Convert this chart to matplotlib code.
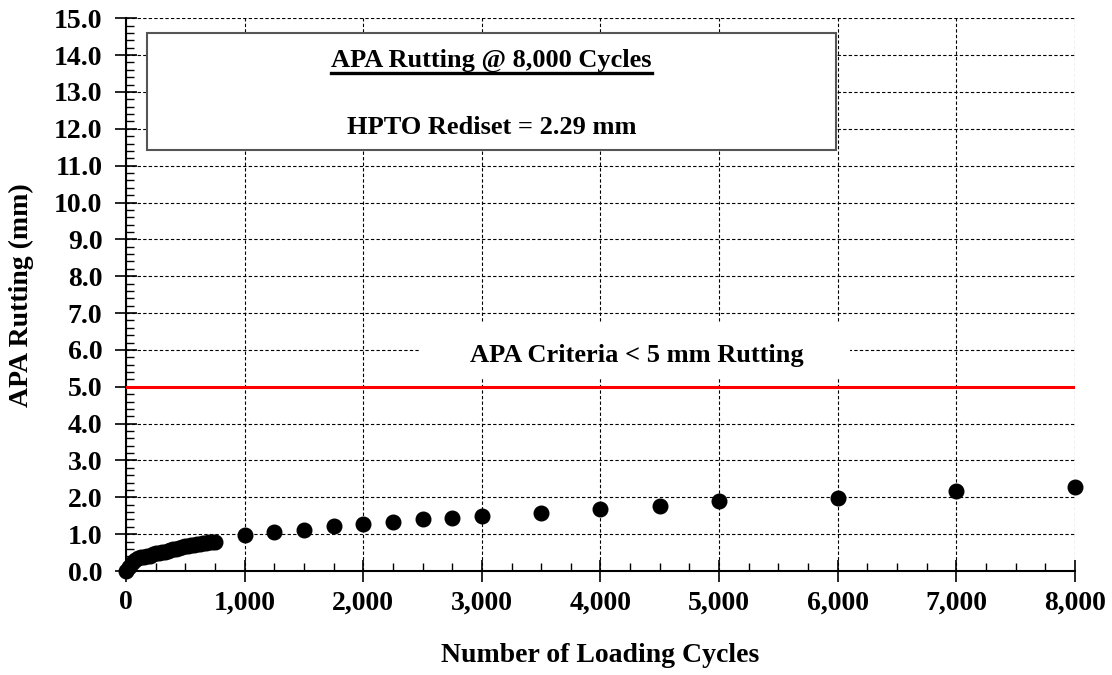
import numpy as np
import matplotlib
matplotlib.use('Agg')
import matplotlib.pyplot as plt
from matplotlib.ticker import MultipleLocator, FuncFormatter
from matplotlib.patches import Rectangle

plt.rcParams['font.family'] = ['Liberation Serif', 'DejaVu Serif']
plt.rcParams['font.weight'] = 'bold'

# 数据：加载次数与车辙深度 (mm)
cycles = [0, 25, 50, 75, 100, 125, 150, 175, 200, 225, 250, 275, 300, 325, 350,
          375, 400, 425, 450, 475, 500, 525, 550, 575, 600, 625, 650, 675, 700,
          725, 750,
          1000, 1250, 1500, 1750, 2000, 2250, 2500, 2750, 3000,
          3500, 4000, 4500, 5000, 6000, 7000, 8000]
rutting = [0.00, 0.12, 0.22, 0.29, 0.35, 0.38, 0.39, 0.40, 0.42, 0.45, 0.48,
           0.50, 0.52, 0.53, 0.55, 0.57, 0.59, 0.61, 0.63, 0.65, 0.67, 0.69,
           0.71, 0.72, 0.73, 0.74, 0.75, 0.77, 0.78, 0.78, 0.79,
           0.98, 1.06, 1.11, 1.22, 1.27, 1.33, 1.41, 1.44, 1.49,
           1.57, 1.68, 1.76, 1.90, 1.98, 2.17, 2.29]
criteria = 5.0

fig = plt.figure(figsize=(11.12, 6.75), dpi=100)
ax = fig.add_axes([0.1133, 0.154, 0.8534, 0.819])

ax.plot(cycles, rutting, 'o', color='black', markersize=10.5, zorder=5, clip_on=False)
ax.axhline(criteria, color='red', linewidth=2.2, zorder=4)

ax.set_xlim(0, 8000)
ax.set_ylim(0, 15)
ax.xaxis.set_major_locator(MultipleLocator(1000))
ax.xaxis.set_minor_locator(MultipleLocator(250))
ax.yaxis.set_major_locator(MultipleLocator(1.0))
ax.yaxis.set_minor_locator(MultipleLocator(0.2))
ax.xaxis.set_major_formatter(FuncFormatter(lambda v, p: f'{v:,.0f}'))
ax.yaxis.set_major_formatter(FuncFormatter(lambda v, p: f'{v:.1f}'))

ax.tick_params(which='major', direction='inout', length=16, width=1.2, labelsize=20, pad=6)
ax.tick_params(axis='y', which='major', pad=9)
ax.tick_params(which='minor', direction='in', length=6, width=1.0)
ax.grid(True, which='major', color='black', linestyle=(0, (3, 2)), linewidth=0.8)

for s in ['top', 'right']:
    ax.spines[s].set_visible(False)
for s in ['left', 'bottom']:
    ax.spines[s].set_linewidth(1.5)

ax.set_xlabel('Number of Loading Cycles', fontsize=20, fontweight='bold', labelpad=20)
ax.set_ylabel('APA Rutting (mm)', fontsize=20, fontweight='bold', labelpad=14)

# 标题框
ax.add_patch(Rectangle((0.022, 0.761), 0.726, 0.212, transform=ax.transAxes,
                       facecolor='white', edgecolor='#555555', linewidth=1.5, zorder=6))
t1 = ax.text(0.385, 0.924, 'APA Rutting @ 8,000 Cycles', transform=ax.transAxes,
             ha='center', va='center', fontsize=19, fontweight='bold', zorder=7)
ax.text(0.385, 0.803, 'HPTO Rediset = 2.29 mm', transform=ax.transAxes,
        ha='center', va='center', fontsize=19, fontweight='bold', zorder=7)

# 标准线说明
ax.add_patch(Rectangle((0.31, 0.349), 0.453, 0.101, transform=ax.transAxes,
                       facecolor='white', edgecolor='none', zorder=3))
ax.text(0.538, 0.39, 'APA Criteria < 5 mm Rutting', transform=ax.transAxes,
        ha='center', va='center', fontsize=19, fontweight='bold', zorder=7)

# 下划线
fig.canvas.draw()
bb = t1.get_window_extent().transformed(ax.transAxes.inverted())
ax.plot([bb.x0, bb.x1], [bb.y0 - 0.002, bb.y0 - 0.002], transform=ax.transAxes,
        color='black', linewidth=2.4, zorder=7)

fig.savefig('out.png', dpi=100)
